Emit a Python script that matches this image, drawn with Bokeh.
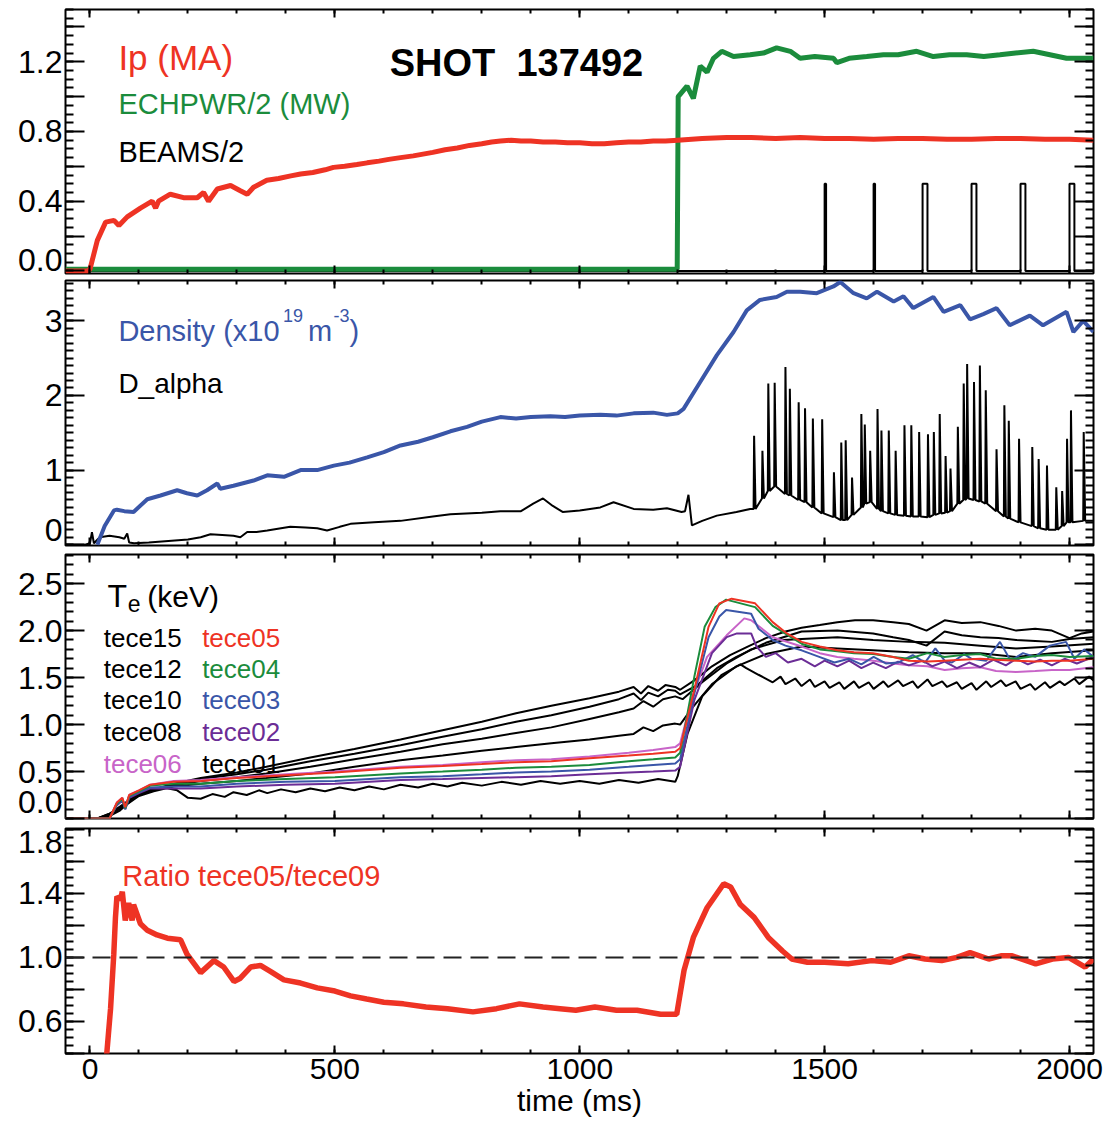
from bokeh.plotting import figure
from bokeh.layouts import column
from bokeh.models import Range1d, FixedTicker, LinearAxis, Label, Span, CustomJSTickFormatter
from bokeh.embed import file_html
from bokeh.resources import INLINE

FONT = "Liberation Sans"
RED = "#ee3324"
GREEN = "#1b8c3c"
BLUE = "#3a56a8"
PURPLE = "#6b2d96"
ORCHID = "#c864c8"
BLACK = "#000000"

# ---------------- data (time in ms) ----------------
ip_t = [-50, -5, 0, 15, 32, 49, 59, 76, 103, 127, 134, 140, 164, 191, 219, 232, 242, 260, 287, 307, 321, 334,
        361, 385, 410, 430, 455, 480, 497, 520, 545, 566, 590, 610, 634, 660, 680, 700, 725, 750, 775, 800, 820,
        838, 860, 880, 900, 925, 950, 975, 1000, 1025, 1050, 1075, 1100, 1125, 1150, 1175, 1200, 1250, 1300,
        1350, 1400, 1450, 1500, 1550, 1600, 1650, 1700, 1750, 1800, 1850, 1900, 1950, 2000, 2049]
ip_v = [0.0, 0.0, 0.01, 0.175, 0.28, 0.29, 0.26, 0.31, 0.36, 0.40, 0.36, 0.40, 0.44, 0.42, 0.42, 0.45, 0.40,
        0.47, 0.49, 0.46, 0.44, 0.48, 0.52, 0.53, 0.545, 0.556, 0.565, 0.58, 0.594, 0.60, 0.61, 0.62, 0.63, 0.64,
        0.65, 0.66, 0.67, 0.68, 0.695, 0.705, 0.72, 0.73, 0.74, 0.745, 0.75, 0.745, 0.745, 0.74, 0.74, 0.735,
        0.735, 0.73, 0.73, 0.735, 0.74, 0.74, 0.745, 0.745, 0.75, 0.76, 0.765, 0.765, 0.76, 0.765, 0.76, 0.76,
        0.755, 0.76, 0.76, 0.755, 0.755, 0.76, 0.76, 0.755, 0.755, 0.75]

ech_t = [-50, 1199, 1201, 1219, 1232, 1246, 1260, 1273, 1290, 1314, 1348, 1375, 1402, 1430, 1450, 1480, 1518,
         1525, 1550, 1586, 1620, 1650, 1688, 1722, 1755, 1790, 1825, 1858, 1890, 1926, 1960, 1994, 2020, 2049]
ech_v = [0.01, 0.01, 1.0, 1.06, 0.99, 1.175, 1.14, 1.22, 1.26, 1.23, 1.24, 1.25, 1.28, 1.26, 1.22, 1.23, 1.22,
         1.195, 1.22, 1.23, 1.24, 1.24, 1.26, 1.23, 1.24, 1.24, 1.23, 1.24, 1.25, 1.26, 1.24, 1.22, 1.22, 1.22]

beam_start = [1500, 1600, 1700, 1800, 1900, 2000]
beam_dur = [3, 3, 10, 10, 10, 10]
beam_level = 0.5

dens_t = [15, 30, 49, 55, 70, 89, 117, 144, 178, 198, 219, 239, 260, 266, 293, 334, 362, 396, 430, 464, 498, 530,
          566, 600, 634, 670, 700, 736, 770, 800, 838, 870, 900, 940, 970, 1000, 1042, 1075, 1110, 1150, 1178,
          1200, 1212, 1246, 1280, 1314, 1341, 1368, 1402, 1423, 1450, 1484, 1518, 1532, 1559, 1586, 1607, 1641,
          1661, 1681, 1722, 1743, 1777, 1797, 1824, 1851, 1878, 1919, 1946, 1994, 2008, 2028, 2049]
dens_v = [0.0, 0.25, 0.46, 0.47, 0.45, 0.44, 0.61, 0.66, 0.73, 0.69, 0.66, 0.73, 0.82, 0.75, 0.79, 0.86, 0.93, 0.91,
          1.0, 1.0, 1.06, 1.10, 1.17, 1.24, 1.33, 1.38, 1.44, 1.52, 1.58, 1.65, 1.71, 1.69, 1.71, 1.72, 1.71, 1.73,
          1.74, 1.73, 1.76, 1.77, 1.74, 1.76, 1.82, 2.18, 2.54, 2.85, 3.14, 3.28, 3.32, 3.39, 3.39, 3.37, 3.46,
          3.52, 3.37, 3.30, 3.39, 3.26, 3.33, 3.17, 3.32, 3.12, 3.21, 3.02, 3.09, 3.17, 2.94, 3.07, 2.94, 3.12,
          2.85, 3.0, 2.85]

dalpha_t = [-50, -10, 0, 4, 8, 20, 40, 60, 70, 76, 80, 90, 120, 160, 200, 226, 246, 270, 293, 307, 321, 340, 362,
            390, 409, 440, 464, 484, 510, 532, 580, 634, 700, 736, 800, 838, 880, 905, 925, 945, 965, 1000, 1042,
            1069, 1110, 1150, 1178, 1208, 1215, 1222, 1229, 1250, 1280, 1320, 1348]
dalpha_v = [0.0, 0.0, 0.02, 0.17, 0.02, 0.1, 0.12, 0.1, 0.08, 0.15, 0.03, 0.02, 0.03, 0.05, 0.07, 0.1, 0.14, 0.13,
            0.12, 0.1, 0.17, 0.17, 0.19, 0.22, 0.24, 0.23, 0.22, 0.19, 0.24, 0.28, 0.3, 0.32, 0.38, 0.41, 0.43, 0.45,
            0.45, 0.55, 0.62, 0.52, 0.44, 0.46, 0.5, 0.57, 0.48, 0.47, 0.49, 0.44, 0.45, 0.67, 0.26, 0.32, 0.39,
            0.44, 0.48]
elm_t = [1355, 1372, 1384, 1397, 1419, 1428, 1446, 1459, 1475, 1494, 1518, 1533, 1542, 1555, 1574, 1581, 1592,
         1607, 1615, 1630, 1644, 1662, 1676, 1692, 1710, 1722, 1734, 1746, 1756, 1771, 1783, 1790, 1804, 1816,
         1828, 1850, 1866, 1875, 1896, 1923, 1936, 1953, 1972, 1984, 1994, 2002, 2028]
elm_peak = [1.46, 1.26, 2.16, 2.17, 2.38, 2.09, 1.91, 1.83, 1.69, 1.68, 0.97, 1.37, 1.40, 0.90, 1.75, 1.61, 1.26,
            1.82, 1.53, 1.53, 1.26, 1.60, 1.60, 1.51, 1.48, 1.51, 1.75, 1.19, 1.02, 1.58, 2.16, 2.42, 2.18, 2.40,
            2.07, 1.28, 1.87, 1.66, 1.42, 1.31, 1.15, 1.06, 0.77, 0.72, 1.42, 1.80, 1.51]
elm_base = [0.48, 0.62, 0.72, 0.78, 0.68, 0.66, 0.60, 0.57, 0.50, 0.42, 0.37, 0.33, 0.33, 0.40, 0.50, 0.55, 0.57,
            0.48, 0.45, 0.42, 0.40, 0.39, 0.38, 0.38, 0.37, 0.40, 0.42, 0.43, 0.45, 0.55, 0.60, 0.62, 0.60, 0.58,
            0.55, 0.45, 0.38, 0.35, 0.30, 0.25, 0.22, 0.20, 0.20, 0.25, 0.30, 0.30, 0.32]

# electron temperature channels (keV)
te15_t = [-50, 15, 40, 70, 100, 130, 171, 226, 300, 360, 450, 540, 634, 720, 800, 870, 942, 1020, 1080, 1110, 1125,
          1140, 1160, 1175, 1195, 1205, 1234, 1270, 1307, 1343, 1380, 1420, 1453, 1490, 1526, 1562, 1599, 1640,
          1672, 1708, 1745, 1780, 1818, 1855, 1891, 1930, 1964, 2000, 2025, 2049]
te15_v = [0, 0, 0.05, 0.16, 0.27, 0.31, 0.37, 0.43, 0.49, 0.55, 0.65, 0.74, 0.84, 0.94, 1.03, 1.12, 1.20, 1.28,
          1.35, 1.40, 1.33, 1.41, 1.36, 1.42, 1.40, 1.37, 1.47, 1.62, 1.74, 1.83, 1.92, 1.99, 2.03, 2.06, 2.09,
          2.11, 2.11, 2.09, 2.07, 2.00, 2.11, 2.08, 2.09, 2.05, 2.00, 2.02, 2.00, 1.92, 1.97, 1.99]
te12_t = [-50, 15, 40, 70, 100, 130, 171, 226, 300, 360, 450, 540, 634, 720, 800, 870, 942, 1020, 1080, 1110, 1125,
          1140, 1160, 1180, 1195, 1205, 1240, 1280, 1320, 1380, 1453, 1526, 1599, 1640, 1672, 1708, 1745, 1780,
          1818, 1855, 1891, 1930, 1964, 2000, 2049]
te12_v = [0, 0, 0.05, 0.15, 0.26, 0.31, 0.36, 0.42, 0.47, 0.52, 0.61, 0.69, 0.78, 0.87, 0.95, 1.03, 1.10, 1.19,
          1.27, 1.33, 1.26, 1.34, 1.30, 1.37, 1.36, 1.32, 1.42, 1.60, 1.72, 1.87, 1.99, 2.00, 1.97, 1.93, 1.90,
          1.84, 1.99, 1.95, 1.93, 1.92, 1.90, 1.89, 1.88, 1.91, 1.93]
te10_t = [-50, 15, 40, 70, 100, 130, 171, 226, 300, 360, 450, 540, 634, 720, 800, 870, 942, 1020, 1080, 1110, 1130,
          1150, 1170, 1195, 1210, 1250, 1300, 1350, 1416, 1453, 1526, 1599, 1672, 1745, 1818, 1891, 1964, 2049]
te10_v = [0, 0, 0.04, 0.14, 0.25, 0.30, 0.35, 0.40, 0.44, 0.48, 0.55, 0.63, 0.71, 0.79, 0.85, 0.91, 0.97, 1.06,
          1.13, 1.17, 1.25, 1.19, 1.27, 1.30, 1.27, 1.45, 1.65, 1.80, 1.90, 1.91, 1.93, 1.90, 1.88, 1.87, 1.84,
          1.81, 1.83, 1.86]
te08_t = [-50, 15, 40, 70, 100, 130, 171, 226, 300, 360, 450, 540, 634, 720, 800, 870, 942, 1020, 1080, 1110, 1130,
          1150, 1170, 1195, 1205, 1230, 1270, 1320, 1380, 1453, 1526, 1599, 1672, 1745, 1818, 1891, 1964, 2049]
te08_v = [0, 0, 0.04, 0.13, 0.24, 0.29, 0.34, 0.37, 0.40, 0.43, 0.48, 0.55, 0.62, 0.67, 0.72, 0.76, 0.80, 0.84,
          0.88, 0.90, 0.97, 0.93, 0.99, 1.01, 1.00, 1.18, 1.43, 1.62, 1.75, 1.83, 1.81, 1.79, 1.77, 1.76, 1.76,
          1.72, 1.76, 1.79]
te06_t = [-50, 40, 55, 66, 72, 80, 100, 123, 171, 226, 300, 400, 500, 634, 720, 800, 870, 942, 1020, 1100, 1150,
          1195, 1205, 1230, 1260, 1300, 1336, 1350, 1394, 1453, 1490, 1526, 1560, 1600, 1640, 1672, 1710, 1745,
          1780, 1818, 1850, 1891, 1930, 1964, 2000, 2049]
te06_v = [0, 0, 0.17, 0.22, 0.12, 0.25, 0.30, 0.36, 0.40, 0.41, 0.44, 0.47, 0.50, 0.55, 0.57, 0.60, 0.62, 0.63,
          0.66, 0.70, 0.73, 0.76, 0.80, 1.30, 1.72, 1.95, 2.13, 2.11, 1.93, 1.83, 1.76, 1.72, 1.70, 1.68, 1.65,
          1.63, 1.62, 1.58, 1.60, 1.61, 1.57, 1.56, 1.57, 1.58, 1.58, 1.61]
te05_t = [-50, 40, 55, 66, 72, 80, 100, 123, 171, 226, 300, 400, 500, 634, 720, 800, 870, 942, 1020, 1100, 1150,
          1195, 1205, 1234, 1263, 1285, 1310, 1358, 1394, 1423, 1453, 1490, 1526, 1560, 1599, 1640, 1672, 1710,
          1745, 1780, 1818, 1850, 1891, 1930, 1964, 2000, 2049]
te05_v = [0, 0, 0.17, 0.22, 0.12, 0.25, 0.30, 0.36, 0.39, 0.40, 0.43, 0.46, 0.49, 0.54, 0.56, 0.58, 0.60, 0.61,
          0.64, 0.67, 0.69, 0.71, 0.75, 1.37, 2.04, 2.29, 2.34, 2.29, 2.09, 1.97, 1.88, 1.83, 1.79, 1.77, 1.76,
          1.72, 1.68, 1.67, 1.68, 1.69, 1.70, 1.69, 1.68, 1.67, 1.68, 1.68, 1.70]
te04_t = [-50, 40, 55, 66, 72, 80, 100, 123, 171, 226, 300, 400, 500, 634, 720, 800, 870, 942, 1020, 1100, 1150,
          1195, 1205, 1234, 1255, 1277, 1299, 1358, 1394, 1453, 1490, 1526, 1560, 1599, 1640, 1672, 1710, 1745,
          1780, 1818, 1850, 1891, 1930, 1964, 2000, 2049]
te04_v = [0, 0, 0.16, 0.21, 0.11, 0.24, 0.29, 0.35, 0.37, 0.37, 0.40, 0.42, 0.44, 0.48, 0.50, 0.52, 0.54, 0.55,
          0.57, 0.61, 0.63, 0.65, 0.70, 1.51, 2.04, 2.25, 2.33, 2.25, 2.05, 1.86, 1.80, 1.78, 1.76, 1.75, 1.72,
          1.70, 1.76, 1.72, 1.74, 1.75, 1.70, 1.70, 1.73, 1.74, 1.72, 1.73]
te03_t = [-50, 40, 55, 66, 72, 80, 100, 123, 171, 226, 300, 400, 500, 634, 720, 800, 870, 942, 1020, 1100, 1150,
          1195, 1205, 1234, 1263, 1285, 1299, 1350, 1365, 1394, 1420, 1453, 1489, 1520, 1550, 1575, 1600, 1625,
          1650, 1680, 1705, 1726, 1745, 1760, 1785, 1800, 1830, 1858, 1880, 1905, 1930, 1960, 1993, 2010, 2030,
          2049]
te03_v = [0, 0, 0.15, 0.20, 0.10, 0.23, 0.28, 0.33, 0.34, 0.34, 0.37, 0.39, 0.40, 0.44, 0.45, 0.47, 0.49, 0.50,
          0.52, 0.55, 0.57, 0.585, 0.63, 1.33, 1.93, 2.15, 2.22, 2.18, 2.02, 1.90, 1.84, 1.79, 1.72, 1.66, 1.70,
          1.64, 1.72, 1.65, 1.66, 1.74, 1.66, 1.81, 1.68, 1.66, 1.75, 1.70, 1.68, 1.88, 1.68, 1.76, 1.72, 1.84,
          1.88, 1.70, 1.80, 1.72]
te02_t = [-50, 40, 55, 66, 72, 80, 100, 123, 171, 226, 300, 400, 500, 634, 720, 800, 870, 942, 1020, 1100, 1150,
          1195, 1205, 1234, 1270, 1300, 1321, 1350, 1361, 1380, 1400, 1425, 1453, 1480, 1500, 1526, 1550, 1575,
          1599, 1625, 1650, 1672, 1700, 1720, 1745, 1770, 1795, 1818, 1845, 1870, 1891, 1915, 1940, 1964, 1990,
          2015, 2049]
te02_v = [0, 0, 0.14, 0.19, 0.10, 0.22, 0.27, 0.32, 0.32, 0.32, 0.34, 0.36, 0.37, 0.41, 0.42, 0.43, 0.44, 0.45,
          0.47, 0.49, 0.50, 0.51, 0.55, 1.26, 1.76, 1.93, 1.97, 1.97, 1.83, 1.72, 1.76, 1.66, 1.70, 1.62, 1.68,
          1.62, 1.68, 1.60, 1.66, 1.60, 1.67, 1.63, 1.68, 1.62, 1.67, 1.60, 1.66, 1.61, 1.69, 1.63, 1.70, 1.64,
          1.69, 1.63, 1.70, 1.65, 1.72]
te01_t = [-50, 30, 60, 90, 120, 150, 178, 200, 226, 250, 275, 293, 320, 345, 362, 390, 420, 450, 480, 510, 540, 570,
          600, 634, 670, 700, 730, 760, 800, 840, 880, 920, 960, 1000, 1040, 1080, 1120, 1160, 1195, 1200, 1220,
          1250, 1290, 1328, 1340, 1365, 1394, 1410, 1420, 1440, 1453, 1470, 1480, 1500, 1510, 1530, 1540, 1560,
          1570, 1590, 1600, 1620, 1630, 1650, 1660, 1680, 1690, 1710, 1720, 1740, 1750, 1770, 1780, 1800, 1810,
          1830, 1840, 1860, 1870, 1890, 1900, 1920, 1930, 1950, 1960, 1980, 1990, 2010, 2020, 2040, 2049]
te01_v = [0, 0, 0.08, 0.22, 0.30, 0.33, 0.30, 0.22, 0.21, 0.26, 0.23, 0.28, 0.25, 0.30, 0.27, 0.31, 0.28, 0.32,
          0.29, 0.33, 0.30, 0.34, 0.31, 0.36, 0.33, 0.37, 0.34, 0.38, 0.35, 0.39, 0.36, 0.40, 0.37, 0.40, 0.37,
          0.41, 0.38, 0.42, 0.39, 0.45, 0.90, 1.30, 1.53, 1.64, 1.60, 1.53, 1.45, 1.51, 1.43, 1.49, 1.41, 1.48,
          1.40, 1.46, 1.39, 1.45, 1.38, 1.46, 1.39, 1.45, 1.38, 1.46, 1.40, 1.47, 1.41, 1.46, 1.39, 1.48, 1.41,
          1.46, 1.40, 1.45, 1.38, 1.44, 1.37, 1.46, 1.40, 1.47, 1.41, 1.46, 1.38, 1.43, 1.37, 1.45, 1.39, 1.46,
          1.42, 1.49, 1.43, 1.51, 1.47]

ratio_t = [30, 34, 42, 48.6, 52, 55, 62, 66, 72, 79, 86, 89, 103, 117, 137, 158, 185, 198, 226, 253, 273, 294, 307,
           328, 348, 370, 396, 430, 464, 500, 532, 565, 600, 640, 686, 730, 782, 830, 877, 925, 960, 992, 1031,
           1075, 1117, 1165, 1198, 1213, 1232, 1260, 1294, 1308, 1328, 1356, 1385, 1414, 1433, 1465, 1500, 1548,
           1596, 1635, 1672, 1705, 1739, 1770, 1797, 1835, 1860, 1883, 1931, 1965, 1998, 2032, 2049]
ratio_v = [0.2, 0.39, 0.68, 1.02, 1.25, 1.38, 1.36, 1.41, 1.23, 1.34, 1.23, 1.33, 1.21, 1.17, 1.14, 1.12, 1.11,
           1.02, 0.905, 0.98, 0.94, 0.85, 0.87, 0.94, 0.95, 0.91, 0.86, 0.84, 0.81, 0.79, 0.76, 0.74, 0.72, 0.71,
           0.69, 0.68, 0.66, 0.68, 0.71, 0.69, 0.68, 0.67, 0.69, 0.67, 0.67, 0.645, 0.645, 0.92, 1.125, 1.31, 1.46,
           1.44, 1.33, 1.25, 1.125, 1.04, 0.99, 0.97, 0.97, 0.96, 0.98, 0.97, 1.01, 0.99, 0.98, 1.00, 1.03, 0.99,
           1.01, 1.01, 0.96, 0.99, 1.0, 0.94, 0.99]
ratio_ref = 1.0

# tick layout
x_major = [0, 500, 1000, 1500, 2000]
x_minor = [100 * i for i in range(0, 21)]

X_RANGE = (-50, 2049)
FRAME_W = 1028


def style_axis(ax, major_in, minor_in):
    ax.axis_line_color = None
    ax.major_tick_in = major_in
    ax.major_tick_out = 0
    ax.minor_tick_in = minor_in
    ax.minor_tick_out = 0
    ax.major_tick_line_color = BLACK
    ax.major_tick_line_width = 2
    ax.minor_tick_line_color = BLACK
    ax.minor_tick_line_width = 2
    ax.major_label_text_font = FONT
    ax.major_label_text_color = BLACK


def hide_labels(ax):
    ax.major_label_text_font_size = "0px"
    ax.major_label_standoff = 0
    ax.formatter = CustomJSTickFormatter(code="return '';")


def make_panel(yr, frame_h, top, bottom, yticks, yminor, ylabel_pos, ycode, show_x):
    p = figure(frame_width=FRAME_W, frame_height=frame_h,
               x_range=Range1d(*X_RANGE), y_range=Range1d(*yr),
               output_backend="svg", toolbar_location=None,
               x_axis_location=None, y_axis_location=None,
               min_border_left=65, min_border_right=19,
               min_border_top=top, min_border_bottom=bottom)
    p.grid.visible = False
    p.outline_line_color = BLACK
    p.outline_line_width = 2
    p.outline_line_alpha = 1.0
    p.background_fill_color = "white"
    p.border_fill_color = "white"

    xb = LinearAxis(ticker=FixedTicker(ticks=x_major, minor_ticks=x_minor))
    style_axis(xb, 8, 4)
    if show_x:
        xb.formatter = CustomJSTickFormatter(code="return tick.toFixed(0);")
        xb.major_label_text_font_size = "30px"
        xb.major_label_standoff = 5
        xb.axis_label = "time (ms)"
        xb.axis_label_text_font = FONT
        xb.axis_label_text_font_size = "30px"
        xb.axis_label_text_font_style = "normal"
        xb.axis_label_text_color = BLACK
        xb.axis_label_standoff = 2
    else:
        hide_labels(xb)
    p.add_layout(xb, "below")

    xt = LinearAxis(ticker=FixedTicker(ticks=x_major, minor_ticks=x_minor))
    style_axis(xt, 8, 4)
    hide_labels(xt)
    p.add_layout(xt, "above")

    # tick marks (inside the frame), no labels
    yl = LinearAxis(ticker=FixedTicker(ticks=yticks, minor_ticks=yminor))
    style_axis(yl, 19, 8)
    hide_labels(yl)
    p.add_layout(yl, "left")
    # tick labels only (edge labels lifted inside the panel, as in the original)
    ylab = LinearAxis(ticker=FixedTicker(ticks=ylabel_pos, minor_ticks=[]),
                      formatter=CustomJSTickFormatter(code=ycode))
    style_axis(ylab, 0, 0)
    ylab.major_tick_line_color = None
    ylab.minor_tick_line_color = None
    ylab.major_label_text_font_size = "32px"
    ylab.major_label_standoff = 3
    p.add_layout(ylab, "left")

    yrax = LinearAxis(ticker=FixedTicker(ticks=yticks, minor_ticks=yminor))
    style_axis(yrax, 19, 8)
    hide_labels(yrax)
    p.add_layout(yrax, "right")
    return p


def txt(p, x, y, s, color=BLACK, size=29, style="normal", align="left", baseline="alphabetic"):
    p.add_layout(Label(x=x, y=y, text=s, text_color=color, text_font=FONT,
                       text_font_size=f"{size}px", text_font_style=style,
                       text_align=align, text_baseline=baseline))


# ---------------- panel 1 ----------------
p1 = make_panel((-0.015, 1.5), 264, 9, 6,
                [0.0, 0.2, 0.4, 0.6, 0.8, 1.0, 1.2, 1.4], [0.05 * i for i in range(0, 31)],
                [0.065, 0.4, 0.8, 1.2],
                "return tick < 0.1 ? '0.0' : tick.toFixed(1);", False)
beam_t = [X_RANGE[0]]
beam_v = [0.0]
for s, d in zip(beam_start, beam_dur):
    beam_t += [s, s, s + d, s + d]
    beam_v += [0.0, beam_level, beam_level, 0.0]
beam_t.append(X_RANGE[1])
beam_v.append(0.0)
p1.line(beam_t, beam_v, line_color=BLACK, line_width=2)
p1.line(ech_t, ech_v, line_color=GREEN, line_width=5)
p1.line(ip_t, ip_v, line_color=RED, line_width=5)
txt(p1, 58, 1.223, "Ip (MA)", RED, 35)
txt(p1, 58, 0.957, "ECHPWR/2 (MW)", GREEN, 29)
txt(p1, 58, 0.68, "BEAMS/2", BLACK, 29)
txt(p1, 612, 1.193, "SHOT\u00a0\u00a0137492", BLACK, 38, "bold")

# ---------------- panel 2 ----------------
p2 = make_panel((-0.01, 3.54), 265, 1, 6,
                [0, 1, 2, 3], [0.1 * i for i in range(0, 36)],
                [0.2, 1, 2, 3],
                "return tick < 0.5 ? '0' : tick.toFixed(0);", False)
da_t = list(dalpha_t)
da_v = list(dalpha_v)
for t0, pk, b in zip(elm_t, elm_peak, elm_base):
    da_t += [t0, t0 + 1, t0 + 4]
    da_v += [b, pk, b]
da_t.append(X_RANGE[1])
da_v.append(elm_base[-1])
p2.line(da_t, da_v, line_color=BLACK, line_width=2)
p2.line(dens_t, dens_v, line_color=BLUE, line_width=4)
txt(p2, 58, 2.869, "Density (x10", BLUE, 29)
txt(p2, 394, 3.07, "19", BLUE, 18)
txt(p2, 445, 2.869, "m", BLUE, 29)
txt(p2, 497, 3.07, "-3", BLUE, 18)
txt(p2, 530, 2.869, ")", BLUE, 29)
txt(p2, 58, 2.155, "D_alpha", BLACK, 28)

# ---------------- panel 3 ----------------
p3 = make_panel((0.0, 2.81), 264, 3, 3,
                [0.0, 0.5, 1.0, 1.5, 2.0, 2.5], [0.1 * i for i in range(0, 29)],
                [0.175, 0.5, 1.0, 1.5, 2.0, 2.5],
                "return tick < 0.25 ? '0.0' : tick.toFixed(1);", False)
for t, v in [(te15_t, te15_v), (te12_t, te12_v), (te10_t, te10_v), (te08_t, te08_v), (te01_t, te01_v)]:
    p3.line(t, v, line_color=BLACK, line_width=2)
p3.line(te06_t, te06_v, line_color=ORCHID, line_width=2)
p3.line(te02_t, te02_v, line_color=PURPLE, line_width=2)
p3.line(te03_t, te03_v, line_color=BLUE, line_width=2)
p3.line(te04_t, te04_v, line_color=GREEN, line_width=2)
p3.line(te05_t, te05_v, line_color=RED, line_width=2)
txt(p3, 36, 2.365, "T", BLACK, 32)
txt(p3, 77, 2.29, "e", BLACK, 23)
txt(p3, 117, 2.365, "(keV)", BLACK, 30)
legend_rows = [1.926, 1.588, 1.258, 0.92, 0.585]
col1 = [("tece15", BLACK), ("tece12", BLACK), ("tece10", BLACK), ("tece08", BLACK), ("tece06", ORCHID)]
col2 = [("tece05", RED), ("tece04", GREEN), ("tece03", BLUE), ("tece02", PURPLE), ("tece01", BLACK)]
for yv, (s1, c1), (s2, c2) in zip(legend_rows, col1, col2):
    txt(p3, 28, yv, s1, c1, 26)
    txt(p3, 229, yv, s2, c2, 26)

# ---------------- panel 4 ----------------
p4 = make_panel((0.4, 1.805), 225, 7, 79,
                [0.4, 0.6, 0.8, 1.0, 1.2, 1.4, 1.6, 1.8], [0.4 + 0.05 * i for i in range(0, 29)],
                [0.6, 1.0, 1.4, 1.72],
                "return tick > 1.65 ? '1.8' : tick.toFixed(1);", True)
p4.add_layout(Span(location=ratio_ref, dimension="width", line_color="#222222", line_width=2, line_dash="18 9"))
p4.line(ratio_t, ratio_v, line_color=RED, line_width=5.5)
txt(p4, 66, 1.507, "Ratio tece05/tece09", RED, 29)

layout = column(p1, p2, p3, p4, spacing=0)
open("out.html", "w").write(file_html(layout, INLINE))
